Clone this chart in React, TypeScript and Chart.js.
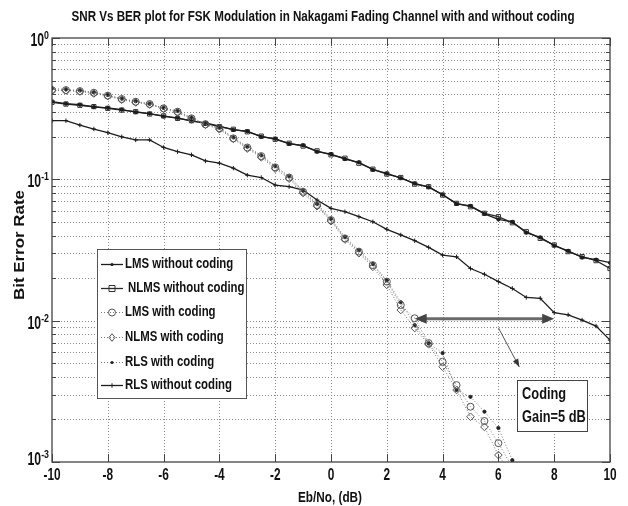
import React, { useEffect, useRef } from 'react';
import { Chart, registerables } from 'chart.js';
Chart.register(...registerables);

const xValues = [-10, -9.5, -9, -8.5, -8, -7.5, -7, -6.5, -6, -5.5, -5, -4.5, -4, -3.5, -3, -2.5, -2, -1.5, -1, -0.5, 0, 0.5, 1, 1.5, 2, 2.5, 3, 3.5, 4, 4.5, 5, 5.5, 6, 6.5, 7, 7.5, 8, 8.5, 9, 9.5, 10];

const lmsWithout = [0.355, 0.343, 0.337, 0.325, 0.320, 0.311, 0.299, 0.292, 0.279, 0.272, 0.258, 0.251, 0.238, 0.224, 0.219, 0.200, 0.194, 0.178, 0.174, 0.157, 0.151, 0.139, 0.132, 0.117, 0.110, 0.102, 0.0935, 0.0880, 0.0780, 0.0670, 0.0648, 0.0570, 0.0520, 0.0500, 0.0420, 0.0388, 0.0340, 0.0312, 0.0280, 0.0270, 0.0257];
const nlmsWithout = [0.351, 0.341, 0.334, 0.327, 0.318, 0.309, 0.301, 0.290, 0.281, 0.270, 0.260, 0.249, 0.236, 0.226, 0.217, 0.202, 0.192, 0.180, 0.172, 0.159, 0.149, 0.141, 0.130, 0.118, 0.109, 0.103, 0.0926, 0.0887, 0.0774, 0.0676, 0.0640, 0.0575, 0.0544, 0.0493, 0.0426, 0.0382, 0.0343, 0.0308, 0.0284, 0.0266, 0.0234];
const lmsWith = [0.428, 0.428, 0.421, 0.410, 0.391, 0.370, 0.354, 0.341, 0.318, 0.301, 0.270, 0.245, 0.230, 0.195, 0.168, 0.146, 0.1216, 0.103, 0.0817, 0.0658, 0.0515, 0.0382, 0.0308, 0.0247, 0.0189, 0.0129, 0.0104, 0.00694, 0.00512, 0.00350, 0.00246, 0.00195, 0.00136, 0.00092, null, null, null, null, null, null, null];
const nlmsWith = [0.425, 0.425, 0.418, 0.405, 0.388, 0.366, 0.350, 0.338, 0.315, 0.297, 0.267, 0.243, 0.226, 0.193, 0.165, 0.143, 0.119, 0.101, 0.0800, 0.0645, 0.0505, 0.0375, 0.0300, 0.0240, 0.0179, 0.0119, 0.00887, 0.00680, 0.00472, 0.00323, 0.00209, 0.00177, 0.00112, 0.00080, null, null, null, null, null, null, null];
const rlsWith = [0.440, 0.432, 0.425, 0.412, 0.395, 0.372, 0.357, 0.342, 0.320, 0.305, 0.273, 0.247, 0.232, 0.198, 0.170, 0.148, 0.124, 0.105, 0.0830, 0.0670, 0.0525, 0.0390, 0.0315, 0.0252, 0.0193, 0.0135, 0.0093, 0.0069, 0.0059, 0.00323, 0.00289, 0.00227, 0.00174, 0.00103, 0.0007, null, null, null, null, null, null];
const rlsWithout = [0.260, 0.260, 0.242, 0.227, 0.214, 0.200, 0.190, 0.190, 0.168, 0.157, 0.149, 0.135, 0.130, 0.120, 0.107, 0.103, 0.0911, 0.0887, 0.0840, 0.0714, 0.0623, 0.0590, 0.0544, 0.0501, 0.0443, 0.0404, 0.0368, 0.0330, 0.0291, 0.0283, 0.0234, 0.0213, 0.0189, 0.0169, 0.0146, 0.0144, 0.0114, 0.0110, 0.0101, 0.00916, 0.00729];

const seriesLabels = ['LMS without coding', 'NLMS without coding', 'LMS with coding', 'NLMS with coding', 'RLS with coding', 'RLS without coding'];
const xTickValues = [-10, -8, -6, -4, -2, 0, 2, 4, 6, 8, 10];
const yDecades = [1, 0.1, 0.01, 0.001];
const yExponents = ['0', '-1', '-2', '-3'];
const minorMultipliers = [2, 3, 4, 5, 6, 7, 8, 9];
const titleText = 'SNR Vs BER plot for FSK Modulation in Nakagami Fading Channel with and without coding';
const xTitleText = 'Eb/No, (dB)';
const yTitleText = 'Bit Error Rate';
const noteLines = ['Coding', 'Gain=5 dB'];
// annotation anchors in data units
const gainArrow = { x1: 3.0, x2: 8.0, y: 0.0103 };
const pointerArrow = { x1: 6.0, y1: 0.0089, x2: 6.75, y2: 0.0047 };
const noteBox = { x1: 6.67, x2: 9.18, y1: 0.0038, y2: 0.00166 };

const FONT = '"Liberation Sans", Arial, sans-serif';
const INK = '#1c1c1c';
const GRID = '#8a8a8a';

const makeData = (arr: (number | null)[]) => arr.map((v, i) => ({ x: xValues[i], y: v }));

type Style = { dash: number[]; color: string; marker: string; r: number; fill: boolean; mcolor: string; width: number };
const styles: Style[] = [
  { dash: [], color: INK, marker: 'dot', r: 1.6, fill: true, mcolor: INK, width: 1.3 },
  { dash: [], color: '#2a2a2a', marker: 'rect', r: 3, fill: false, mcolor: '#333', width: 1.3 },
  { dash: [1, 2], color: '#777', marker: 'circle', r: 3.5, fill: false, mcolor: '#555', width: 1 },
  { dash: [1, 2], color: '#777', marker: 'rectRot', r: 3.8, fill: false, mcolor: '#555', width: 1 },
  { dash: [1, 2], color: '#777', marker: 'dot', r: 1.6, fill: true, mcolor: '#222', width: 1 },
  { dash: [], color: INK, marker: 'cross', r: 2.2, fill: false, mcolor: INK, width: 1.3 },
];
const seriesData = [lmsWithout, nlmsWithout, lmsWith, nlmsWith, rlsWith, rlsWithout];

type TextOpts = { sx?: number; width?: number; align?: CanvasTextAlign; baseline?: CanvasTextBaseline; rotate?: number };
function txt(ctx: CanvasRenderingContext2D, s: string, x: number, y: number, size: number, o: TextOpts = {}) {
  ctx.save();
  ctx.font = `bold ${size}px ${FONT}`;
  ctx.textAlign = o.align || 'left';
  ctx.textBaseline = o.baseline || 'middle';
  let sx = o.sx ?? 1;
  if (o.width) sx = o.width / ctx.measureText(s).width;
  ctx.translate(x, y);
  if (o.rotate) ctx.rotate(o.rotate);
  ctx.scale(sx, 1);
  ctx.fillText(s, 0, 0);
  ctx.restore();
}
function txtWidth(ctx: CanvasRenderingContext2D, s: string, size: number, sx: number) {
  ctx.save();
  ctx.font = `bold ${size}px ${FONT}`;
  const w = ctx.measureText(s).width * sx;
  ctx.restore();
  return w;
}

function drawMarker(ctx: CanvasRenderingContext2D, st: Style, x: number, y: number) {
  ctx.save();
  ctx.setLineDash([]);
  ctx.strokeStyle = st.mcolor;
  ctx.fillStyle = st.mcolor;
  ctx.lineWidth = 1;
  const r = st.r;
  ctx.beginPath();
  if (st.marker === 'dot') { ctx.arc(x, y, r, 0, Math.PI * 2); ctx.fill(); }
  else if (st.marker === 'circle') { ctx.arc(x, y, r, 0, Math.PI * 2); ctx.stroke(); }
  else if (st.marker === 'rect') { ctx.rect(x - r, y - r, 2 * r, 2 * r); ctx.stroke(); }
  else if (st.marker === 'rectRot') { ctx.moveTo(x, y - r); ctx.lineTo(x + r * 0.8, y); ctx.lineTo(x, y + r); ctx.lineTo(x - r * 0.8, y); ctx.closePath(); ctx.stroke(); }
  else if (st.marker === 'cross') { ctx.moveTo(x - r, y); ctx.lineTo(x + r, y); ctx.moveTo(x, y - r); ctx.lineTo(x, y + r); ctx.stroke(); }
  ctx.restore();
}

function arrowHead(ctx: CanvasRenderingContext2D, fx: number, fy: number, tx: number, ty: number, len: number, half: number) {
  const a = Math.atan2(ty - fy, tx - fx);
  ctx.beginPath();
  ctx.moveTo(tx, ty);
  ctx.lineTo(tx - len * Math.cos(a) + half * Math.sin(a), ty - len * Math.sin(a) - half * Math.cos(a));
  ctx.lineTo(tx - len * Math.cos(a) - half * Math.sin(a), ty - len * Math.sin(a) + half * Math.cos(a));
  ctx.closePath();
  ctx.fill();
}

const decorPlugin = {
  id: 'decor',
  beforeDatasetsDraw(chart: any) {
    const { ctx, chartArea: ca, scales } = chart;
    const xs = scales.x, ys = scales.y;
    ctx.save();
    ctx.fillStyle = '#fff';
    ctx.fillRect(ca.left, ca.top, ca.right - ca.left, ca.bottom - ca.top);
    ctx.strokeStyle = GRID;
    ctx.lineWidth = 1;
    ctx.setLineDash([1, 2]);
    xTickValues.slice(1, -1).forEach((v) => {
      const px = Math.round(xs.getPixelForValue(v)) + 0.5;
      ctx.beginPath(); ctx.moveTo(px, ca.top); ctx.lineTo(px, ca.bottom); ctx.stroke();
    });
    const hLines: number[] = [];
    yDecades.forEach((d) => {
      if (d !== 1 && d !== 0.001) hLines.push(d);
      if (d < 1) minorMultipliers.forEach((m) => hLines.push(d * m));
    });
    hLines.forEach((v) => {
      const py = Math.round(ys.getPixelForValue(v)) + 0.5;
      ctx.beginPath(); ctx.moveTo(ca.left, py); ctx.lineTo(ca.right, py); ctx.stroke();
    });
    ctx.restore();
  },
  afterDatasetsDraw(chart: any) {
    const { ctx, chartArea: ca, scales } = chart;
    const xs = scales.x, ys = scales.y;
    ctx.save();
    ctx.setLineDash([]);
    ctx.strokeStyle = '#333';
    ctx.lineWidth = 1.2;
    ctx.strokeRect(ca.left, ca.top, ca.right - ca.left, ca.bottom - ca.top);
    ctx.lineWidth = 1;
    ctx.strokeStyle = '#444';
    xTickValues.forEach((v) => {
      const px = Math.round(xs.getPixelForValue(v)) + 0.5;
      ctx.beginPath();
      ctx.moveTo(px, ca.bottom); ctx.lineTo(px, ca.bottom - 8);
      ctx.moveTo(px, ca.top); ctx.lineTo(px, ca.top + 8);
      ctx.stroke();
    });
    yDecades.forEach((d) => {
      const py = Math.round(ys.getPixelForValue(d)) + 0.5;
      ctx.beginPath();
      ctx.moveTo(ca.left, py); ctx.lineTo(ca.left + 8, py);
      ctx.moveTo(ca.right, py); ctx.lineTo(ca.right - 8, py);
      ctx.stroke();
      if (d < 1) minorMultipliers.forEach((m) => {
        const pm = Math.round(ys.getPixelForValue(d * m)) + 0.5;
        ctx.beginPath();
        ctx.moveTo(ca.left, pm); ctx.lineTo(ca.left + 4, pm);
        ctx.moveTo(ca.right, pm); ctx.lineTo(ca.right - 4, pm);
        ctx.stroke();
      });
    });
    ctx.fillStyle = '#111';
    xTickValues.forEach((v) => {
      txt(ctx, String(v), xs.getPixelForValue(v), ca.bottom + 14, 16, { sx: 0.74, align: 'center' });
    });
    yDecades.forEach((d, i) => {
      const py = ys.getPixelForValue(d);
      const sw = txtWidth(ctx, yExponents[i], 11, 0.8);
      const bw = txtWidth(ctx, '10', 18, 0.68);
      const right = ca.left - 3;
      const shift = i === yDecades.length - 1 ? -5 : 0;
      txt(ctx, '10', right - sw - bw, py + 8 + shift, 18, { sx: 0.68, baseline: 'alphabetic' });
      txt(ctx, yExponents[i], right - sw, py + 1 + shift, 11, { sx: 0.8, baseline: 'alphabetic' });
    });
    txt(ctx, titleText, 323, 17, 15, { width: 503, align: 'center' });
    txt(ctx, xTitleText, 330, 498, 14, { width: 64, align: 'center' });
    txt(ctx, yTitleText, 20, 245, 14, { width: 110, align: 'center', rotate: -Math.PI / 2 });

    const ax1 = xs.getPixelForValue(gainArrow.x1), ax2 = xs.getPixelForValue(gainArrow.x2);
    const ay = ys.getPixelForValue(gainArrow.y);
    ctx.strokeStyle = '#6a6a6a';
    ctx.fillStyle = '#444';
    ctx.lineWidth = 3;
    ctx.beginPath(); ctx.moveTo(ax1 + 8, ay); ctx.lineTo(ax2 - 8, ay); ctx.stroke();
    arrowHead(ctx, ax2 - 20, ay, ax2, ay, 12, 5);
    arrowHead(ctx, ax1 + 20, ay, ax1, ay, 12, 5);
    const p1x = xs.getPixelForValue(pointerArrow.x1), p1y = ys.getPixelForValue(pointerArrow.y1);
    const p2x = xs.getPixelForValue(pointerArrow.x2), p2y = ys.getPixelForValue(pointerArrow.y2);
    ctx.strokeStyle = '#555';
    ctx.lineWidth = 1;
    ctx.beginPath(); ctx.moveTo(p1x, p1y); ctx.lineTo(p2x, p2y); ctx.stroke();
    ctx.fillStyle = '#333';
    arrowHead(ctx, p1x, p1y, p2x, p2y, 8, 3);
    const bx1 = xs.getPixelForValue(noteBox.x1), bx2 = xs.getPixelForValue(noteBox.x2);
    const by1 = ys.getPixelForValue(noteBox.y1), by2 = ys.getPixelForValue(noteBox.y2);
    ctx.fillStyle = '#fff';
    ctx.fillRect(bx1, by1, bx2 - bx1, by2 - by1);
    ctx.strokeStyle = '#444';
    ctx.lineWidth = 1;
    ctx.strokeRect(Math.round(bx1) + 0.5, Math.round(by1) + 0.5, Math.round(bx2 - bx1), Math.round(by2 - by1));
    ctx.fillStyle = '#111';
    txt(ctx, noteLines[0], bx1 + 5, by1 + 15, 16, { sx: 0.8 });
    txt(ctx, noteLines[1], bx1 + 5, by1 + 38, 16, { sx: 0.8 });

    const lx = 97, ly = 249, lw = 149, lh = 149;
    ctx.fillStyle = '#fff';
    ctx.fillRect(lx, ly, lw, lh);
    ctx.strokeStyle = '#555';
    ctx.strokeRect(lx + 0.5, ly + 0.5, lw, lh);
    const rowY = [264, 288, 312, 337, 362, 385];
    seriesLabels.forEach((lab, i) => {
      const st = styles[i];
      const y = rowY[i];
      ctx.save();
      ctx.strokeStyle = st.color;
      ctx.lineWidth = st.width;
      ctx.setLineDash(st.dash);
      ctx.beginPath(); ctx.moveTo(101, y + 0.5); ctx.lineTo(123, y + 0.5); ctx.stroke();
      ctx.restore();
      drawMarker(ctx, st, 112, y + 0.5);
      ctx.fillStyle = '#111';
      txt(ctx, lab, i === 1 ? 128 : 125, y, 15, { sx: 0.76 });
    });
    ctx.restore();
  },
};

export default function App() {
  const ref = useRef<HTMLCanvasElement | null>(null);
  useEffect(() => {
    if (!ref.current) return;
    const datasets = seriesData.map((arr, i) => {
      const st = styles[i];
      const ps = st.marker === 'dot' ? 'circle' : st.marker;
      return {
        label: seriesLabels[i],
        data: makeData(arr),
        borderColor: st.color,
        borderWidth: st.width,
        borderDash: st.dash,
        pointStyle: ps,
        pointRadius: st.r,
        pointBorderColor: st.mcolor,
        pointBorderWidth: 1,
        pointBackgroundColor: st.fill ? st.mcolor : 'rgba(0,0,0,0)',
        fill: false,
        tension: 0,
        spanGaps: false,
      };
    });
    const order = [2, 3, 4, 5, 0, 1];
    const chart = new Chart(ref.current, {
      type: 'line',
      data: { datasets: order.map((k) => datasets[k]) as any },
      options: {
        animation: false,
        responsive: false,
        devicePixelRatio: 1,
        layout: { padding: { top: 38, right: 18, left: 0, bottom: 0 } },
        plugins: { legend: { display: false }, title: { display: false }, tooltip: { enabled: false } },
        scales: {
          x: {
            type: 'linear', min: -10, max: 10,
            grid: { display: false }, border: { display: false }, ticks: { display: false },
            afterFit: (s: any) => { s.height = 44; },
          },
          y: {
            type: 'logarithmic', min: 0.001, max: 1,
            grid: { display: false }, border: { display: false }, ticks: { display: false },
            afterFit: (s: any) => { s.width = 52; },
          },
        },
      } as any,
      plugins: [decorPlugin],
    });
    return () => chart.destroy();
  }, []);
  return (
    <div style={{ position: 'fixed', left: 0, top: 0, width: 628, height: 506, background: '#fff' }}>
      <canvas ref={ref} width={628} height={506} style={{ width: 628, height: 506, display: 'block' }} />
    </div>
  );
}
